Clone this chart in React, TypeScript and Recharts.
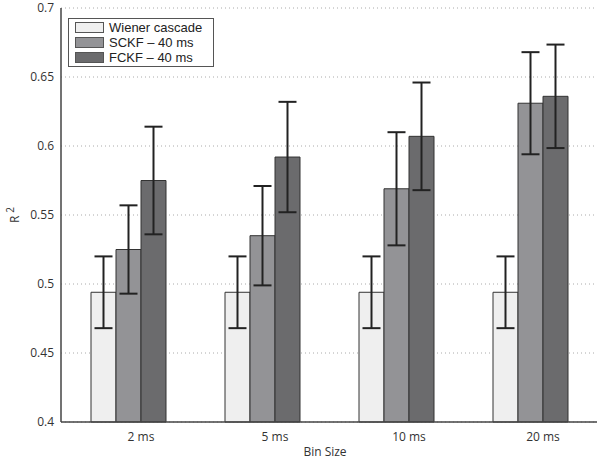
import React from 'react';
import {
  BarChart,
  Bar,
  XAxis,
  YAxis,
  CartesianGrid,
  ErrorBar,
} from 'recharts';

const binSizes = ['2 ms', '5 ms', '10 ms', '20 ms'];
const wiener = [0.494, 0.494, 0.494, 0.494];
const wienerErr = [0.026, 0.026, 0.026, 0.026];
const sckf = [0.525, 0.535, 0.569, 0.631];
const sckfErr = [0.032, 0.036, 0.041, 0.037];
const fckf = [0.575, 0.592, 0.607, 0.636];
const fckfErr = [0.039, 0.04, 0.039, 0.0375];
const yTicks = [0.4, 0.45, 0.5, 0.55, 0.6, 0.65, 0.7];

const seriesNames = ['Wiener cascade', 'SCKF \u2013 40 ms', 'FCKF \u2013 40 ms'];
const colors = ['#efefef', '#939396', '#6b6b6d'];

const data = binSizes.map((bin, i) => ({
  bin,
  wiener: wiener[i],
  wienerErr: wienerErr[i],
  sckf: sckf[i],
  sckfErr: sckfErr[i],
  fckf: fckf[i],
  fckfErr: fckfErr[i],
}));

const font = '"Open Sans", "Noto Sans", sans-serif';
const legendFont = '"Liberation Sans", Arial, sans-serif';
const axisColor = '#444';

function LegendBox() {
  return (
    <div
      style={{
        position: 'absolute',
        left: 68,
        top: 18,
        width: 138,
        height: 46,
        border: '1px solid #555',
        background: '#fff',
        padding: '1px 0 0 6px',
        fontFamily: legendFont,
        fontSize: 13,
        color: '#222',
        lineHeight: '15px',
        boxSizing: 'content-box',
      }}
    >
      {seriesNames.map((name, i) => (
        <div key={name} style={{ display: 'flex', alignItems: 'center', height: 15 }}>
          <span
            style={{
              display: 'inline-block',
              width: 27,
              height: 9,
              background: colors[i],
              border: '1px solid #555',
              marginRight: 5,
            }}
          />
          {name}
        </div>
      ))}
    </div>
  );
}

function YLabel() {
  return (
    <text
      transform="translate(19, 215) rotate(-90)"
      textAnchor="middle"
      fontFamily={font}
      fontSize={12}
      fill="#333"
    >
      R
      <tspan dx={3} dy={-5} fontSize={10}>
        2
      </tspan>
    </text>
  );
}

export default function App() {
  return (
    <div style={{ position: 'absolute', left: 0, top: 0, width: 601, height: 460, background: '#fff' }}>
      <BarChart
        width={601}
        height={460}
        data={data}
        margin={{ top: 8, right: 4, left: 0, bottom: 0 }}
        barGap={0}
        barSize={25}
      >
        <CartesianGrid
          vertical={false}
          stroke="#aaa"
          strokeDasharray="1 3"
        />
        <XAxis
          dataKey="bin"
          height={38}
          tickLine={false}
          tickSize={0}
          tickMargin={10}
          stroke={axisColor}
          strokeWidth={1.5}
          tick={{ fill: '#333', fontSize: 12, fontFamily: font, dx: 13 }}
          label={{
            value: 'Bin Size',
            position: 'insideBottom',
            offset: 4,
            dx: -4,
            fill: '#333',
            fontSize: 12,
            fontFamily: font,
          }}
        />
        <XAxis
          xAxisId="top"
          dataKey="bin"
          orientation="top"
          height={0}
          tick={false}
          tickLine={false}
          stroke={axisColor}
          strokeWidth={1.5}
        />
        <YAxis
          width={61}
          domain={[0.4, 0.7]}
          ticks={yTicks}
          tickLine={false}
          tickSize={0}
          tickMargin={7}
          stroke={axisColor}
          strokeWidth={1.5}
          tick={{ fill: '#333', fontSize: 12, fontFamily: font }}
          label={<YLabel />}
        />
        <YAxis
          yAxisId="right"
          orientation="right"
          width={0}
          domain={[0.4, 0.7]}
          tick={false}
          tickLine={false}
          stroke={axisColor}
          strokeWidth={1.5}
        />
        <Bar
          dataKey="wiener"
          name={seriesNames[0]}
          fill={colors[0]}
          stroke="#333"
          strokeWidth={1}
          isAnimationActive={false}
        >
          <ErrorBar dataKey="wienerErr" width={9} stroke="#222" strokeWidth={2} isAnimationActive={false} />
        </Bar>
        <Bar
          dataKey="sckf"
          name={seriesNames[1]}
          fill={colors[1]}
          stroke="#333"
          strokeWidth={1}
          isAnimationActive={false}
        >
          <ErrorBar dataKey="sckfErr" width={9} stroke="#222" strokeWidth={2} isAnimationActive={false} />
        </Bar>
        <Bar
          dataKey="fckf"
          name={seriesNames[2]}
          fill={colors[2]}
          stroke="#333"
          strokeWidth={1}
          isAnimationActive={false}
        >
          <ErrorBar dataKey="fckfErr" width={9} stroke="#222" strokeWidth={2} isAnimationActive={false} />
        </Bar>
      </BarChart>
      <LegendBox />
    </div>
  );
}
